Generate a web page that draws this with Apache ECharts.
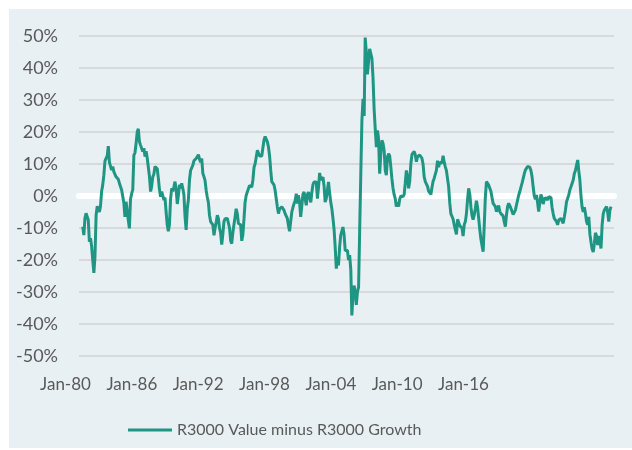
<!DOCTYPE html>
<html>
<head>
<meta charset="utf-8">
<script src="https://cdn.jsdelivr.net/npm/echarts@6/dist/echarts.min.js"></script>
<style>
  html, body { margin: 0; padding: 0; background: #fff; }
  #wrap { position: relative; width: 632px; height: 450px; overflow: hidden; }
  #bg { position: absolute; left: 9px; top: 9px; right: 0; bottom: 2px; background: #e8f0f3; }
  #chart { position: absolute; left: 0; top: 0; width: 632px; height: 450px; }
</style>
</head>
<body>
<div id="wrap"><div id="bg"></div><div id="chart"></div></div>
<script>
// monthly spread, % (value minus growth)
const v1980s = [
  -9.6, -12.2, -7, -5.4, -4.9, -7.5, -14.3, -13.2, -15.8, -20, -24, -19,
  -6, -3.2, -4, -5, -3.2, 1.5, 3.4, 6.5, 11, 11.5, 12.5, 15.6,
  10.5, 10.5, 8.1, 9.2, 7.6, 8, 6, 6.4, 5.2, 4, 4.5, 1.9,
  1.4, -2.3, -6.5, -1.8, -4.5, -7.5, -10.1, -1, 0.8, 1.9, 12.8, 13.5,
  16.5, 20, 21, 17, 15.9, 15.4, 13.9, 14.9, 12.3, 14, 11.8, 11.5,
  6, 1.4, 3, 6, 6.8, 9.2, 9.7, 8.5, 5.5, 2, -0.2, 1.4,
  1.9, -1.25, -0.5, -5, -9, -11, -9, -1, 2.4, 1.4, 2.9, 4.5,
  2, -2.5, 0, 3.5, 2.4, 4, 2.4, 0.5, -6.5, -10.6, -4, -1.25,
  5, 8, 8.3, 9.6, 11, 10.6, 11.7, 12.2, 12.9, 11.5, 10.6, 11.7,
  7, 6, 4.9, 1.8, -0.3, -2, -6, -8, -8, -9, -12.3, -10
];
const v1990s = [
  -8.1, -6, -7, -10, -11.5, -15.2, -12, -8, -7.1, -6.6, -7, -6.6,
  -10, -14, -14.9, -11.5, -9, -6.6, -4, -5.5, -8.6, -8, -9, -14,
  -12, -7, -2, 0.2, 1.25, 2.3, 3.3, 3.6, 2.8, 5, 9, 10.1,
  12.2, 14.3, 14.8, 12.5, 12.2, 12.5, 15, 17.5, 18.6, 18.4, 16.9, 15.3,
  12.5, 8, 4.5, 4.9, 3.5, 1.8, -0.8, -3.4, -5.5, -4, -4.5, -3.4,
  -3.8, -4.5, -5.5, -6, -7, -9.2, -11, -8, -5, -3.6, -2.4, -1.5,
  0.7, -2.4, 0.2, -2, -6.5, -3, 0.5, 1.25, -1, -2.9, 0.5, 1.25,
  -0.5, -2, 1, 3.5, 4.4, 4, 4.4, -0.8, 2.8, 7.2, 5, 5,
  5.9, 3, -1.9, -0.8, 1.8, 4.4, 1, -1.9, -4, -7, -10.5, -16,
  -22.7, -19, -21.7, -16, -12.3, -12, -9.7, -12, -17, -17.5, -17, -20
];
const v2000s = [
  -18.5, -23, -37.3, -31, -28, -30, -34, -30, -28.5, -10.7, 7, 23.6,
  30.4, 25, 49.5, 45, 38, 37.7, 46, 46.6, 43, 37, 27, 21,
  15.3, 20.5, 18, 7, 13, 17.4, 16.5, 14.3, 8, 6.5, 12.2, 13.2,
  12.5, 9, 5.5, 2.5, 0.5, -0.8, -3.3, -2, -3.3, -1, 0, -0.5,
  -0.2, 0.5, 4, 8, 6, 2.4, 4.5, 10, 13, 12.8, 13.9, 12.8,
  10.7, 12.3, 12.8, 12.8, 13.3, 11.8, 10, 6, 4.5, 4.5, 3, 1.5,
  1.8, 0.5, 2.6, 4.5, 5.5, 6, 8, 11, 9, 10.5, 10.5, 10.3,
  12.6, 10.5, 9.2, 8, 5.5, 3, -2, -5.5, -5.6, -7.2, -9, -9.5,
  -12, -7.3, -7.5, -9.3, -9, -10, -12.5, -9, -8, -5.5, -1, 2.4,
  0.5, -3.5, -6, -7.4, -6, -3.9, -1.5, -3.5, -7, -10.5, -13.5, -15.5
];
const v2010s = [
  -17.4, -9, -0.7, 4.5, 4, 3.4, 3.6, 1.5, -0.5, -2.3, -1.8, -3.3,
  -4.9, -3.8, -3, -4.8, -5.5, -5.8, -6.2, -8, -9.6, -6, -3.3, -2.3,
  -3, -3.9, -4.8, -5.8, -5.4, -4.4, -2.8, -1.25, 0.3, 1.4, 2.8, 4,
  4.5, 7, 8.1, 8.6, 9.2, 9.7, 9, 8, 6, 2.8, 0, -1,
  0.3, -2.3, -4.9, -2, 0.5, -0.5, -2.5, -1.2, -0.5, -0.2, -1.25, -0.2,
  -0.5, -0.5, -3.5, -5.5, -7, -6.5, -8, -9, -7.5, -7.5, -7, -7.8,
  -8.5, -6.5, -4.5, -1.8, -1.2, 0.3, 1.9, 2.9, 3.5, 5, 7, 8,
  9.7, 11.25, 8, 5, 0, -3.5, -5, -3.5, -5.5, -8, -9, -6.5,
  -12, -14.5, -16.5, -17.5, -15, -11.5, -12.5, -15.3, -12.5, -14, -16.4, -9,
  -5.5, -4.4, -4.5, -3.3, -5, -8, -4.5, -3.3
];
const xLabels = ["Jan-80", "Jan-86", "Jan-92", "Jan-98", "Jan-04", "Jan-10", "Jan-16"];
const seriesName = "R3000 Value minus R3000 Growth";

const values = [].concat(v1980s, v1990s, v2000s, v2010s);
// one point per month from Jan 1980
const points = values.map((v, i) => {
  const y = 1980 + Math.floor(i / 12);
  const m = String((i % 12) + 1).padStart(2, "0");
  return [y + "-" + m + "-01", v];
});

const FONT = "Lato";
const TXT = "#595959";

const chart = echarts.init(document.getElementById("chart"), null, { renderer: "canvas" });
chart.setOption({
  backgroundColor: "transparent",
  animation: false,
  textStyle: { fontFamily: FONT },
  grid: [
    { left: 79, right: 18, top: 36, bottom: 94 },
    { left: 65.5, width: 398, top: 36, bottom: 94 }
  ],
  xAxis: [
    {
      type: "time", gridIndex: 0,
      min: "1979-09-21", max: "2019-10-22",
      axisLine: { onZero: true, lineStyle: { color: "#ffffff", width: 6 } },
      axisTick: { show: false },
      axisLabel: { show: false },
      splitLine: { show: false }
    },
    {
      type: "category", gridIndex: 1, data: xLabels, boundaryGap: false,
      axisLine: { show: false }, axisTick: { show: false }, splitLine: { show: false },
      axisLabel: { interval: 0, color: TXT, fontSize: 17, margin: 20, fontFamily: FONT }
    }
  ],
  yAxis: [
    {
      type: "value", gridIndex: 0, min: -50, max: 50, interval: 10,
      axisLine: { show: false }, axisTick: { show: false },
      axisLabel: { formatter: "{value}%", color: TXT, fontSize: 18, margin: 21, fontFamily: FONT },
      splitLine: { lineStyle: { color: "#d9d9d9", width: 2 } }
    },
    { type: "value", gridIndex: 1, show: false, min: 0, max: 1 }
  ],
  legend: {
    data: [seriesName], left: 128, top: 422, padding: 0,
    icon: "rect", itemWidth: 44, itemHeight: 3, itemGap: 4,
    textStyle: { color: TXT, fontSize: 16, fontFamily: FONT }
  },
  series: [{
    name: seriesName, type: "line", xAxisIndex: 0, yAxisIndex: 0,
    data: points, showSymbol: false, symbol: "none",
    lineStyle: { color: "#1f9683", width: 3 }, itemStyle: { color: "#1f9683" }
  }]
});
</script>
</body>
</html>
